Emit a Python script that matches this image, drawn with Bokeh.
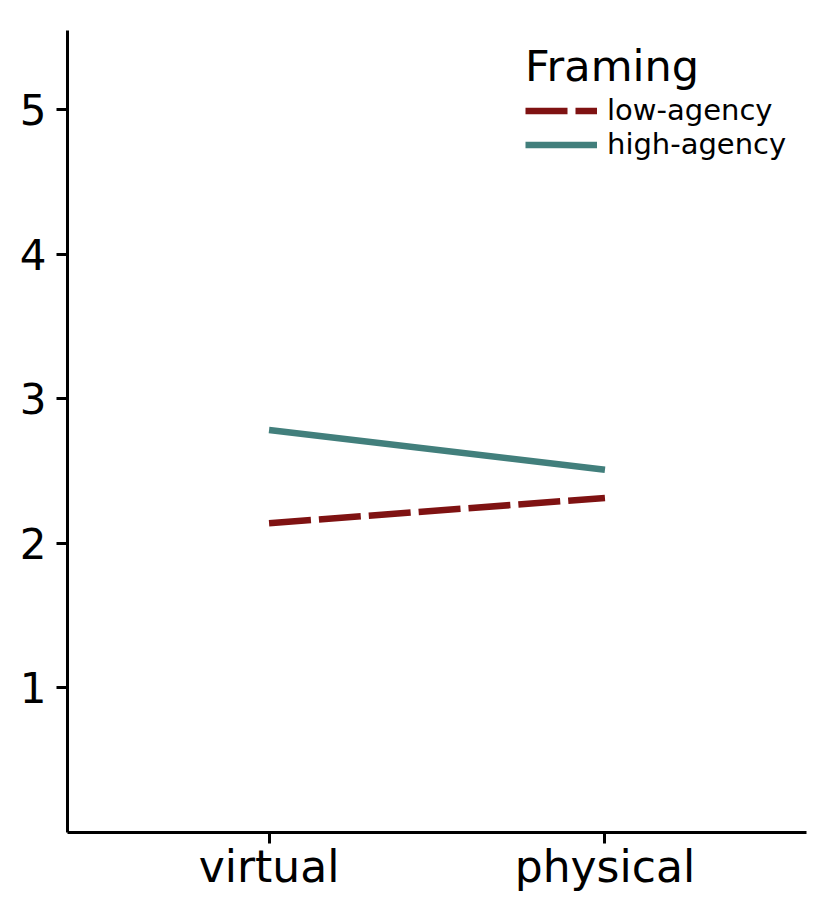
from bokeh.plotting import figure
from bokeh.models import Range1d, FixedTicker, Legend, LegendItem
from bokeh.embed import file_html
from bokeh.resources import INLINE

conditions = ["virtual", "physical"]
x_pos = [1, 2]
low_agency = [2.14, 2.315]
high_agency = [2.785, 2.51]
y_ticks = [1, 2, 3, 4, 5]

FONT = "DejaVu Sans"

p = figure(width=821, height=913, output_backend="svg", toolbar_location=None,
           x_range=Range1d(0.4, 2.6), y_range=Range1d(0.0, 5.55),
           min_border_left=67, min_border_top=30, min_border_right=15, min_border_bottom=81)
p.outline_line_color = None
p.grid.visible = False
p.background_fill_color = "white"

r_low = p.line(x_pos, low_agency, line_color="#7f1212", line_width=6.5, line_dash="42 8")
r_high = p.line(x_pos, high_agency, line_color="#427f7c", line_width=6.5)

for ax in (p.xaxis[0], p.yaxis[0]):
    ax.axis_line_width = 3
    ax.axis_line_color = "black"
    ax.major_tick_line_width = 3
    ax.major_tick_line_color = "black"
    ax.major_tick_out = 11
    ax.major_tick_in = 0
    ax.minor_tick_line_color = None
    ax.major_label_text_font = FONT
    ax.major_label_text_color = "black"

p.xaxis.major_label_text_font_size = "44px"
p.yaxis.major_label_text_font_size = "42px"
p.xaxis.major_label_standoff = -3
p.yaxis.major_label_standoff = 10

p.xaxis.ticker = FixedTicker(ticks=x_pos)
p.xaxis.major_label_overrides = {x: c for x, c in zip(x_pos, conditions)}
p.yaxis.ticker = FixedTicker(ticks=y_ticks)

legend = Legend(items=[LegendItem(label="low-agency", renderers=[r_low]),
                       LegendItem(label="high-agency", renderers=[r_high])],
                location=(458, 671), title="Framing",
                title_text_font=FONT, title_text_font_size="43px", title_text_font_style="normal",
                title_text_color="black",
                label_text_font=FONT, label_text_font_size="29px", label_text_color="black",
                glyph_width=72, glyph_height=33, label_height=33, label_standoff=10,
                spacing=0, padding=0, margin=0, title_standoff=2,
                border_line_color=None, background_fill_alpha=0)
p.add_layout(legend)

open("out.html", "w").write(file_html(p, INLINE))
